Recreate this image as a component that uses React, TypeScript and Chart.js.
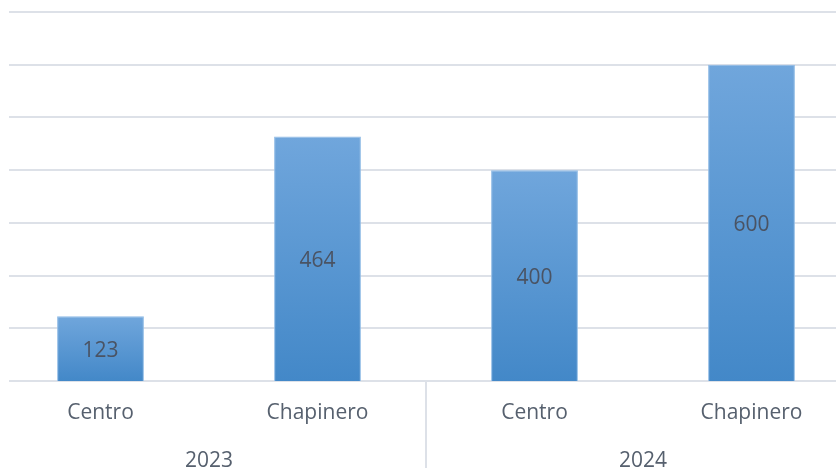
import React, { useEffect, useRef } from "react";
import { Chart, registerables } from "chart.js";

Chart.register(...registerables);

const categories = ["Centro", "Chapinero", "Centro", "Chapinero"];
const years = ["2023", "2024"];
const values = [123, 464, 400, 600];
const yMax = 700;
const yStep = 100;

const GRID = "#dde1e8";
const LABEL = "#56606e";
const DATA_LABEL = "#4a5363";
const FONT = "'Open Sans', sans-serif";

const customPlugin = {
  id: "excelLook",
  beforeDatasetsDraw(chart: any) {
    const { ctx, chartArea, scales } = chart;
    const y = scales.y;
    const x = scales.x;
    ctx.save();
    ctx.strokeStyle = GRID;
    ctx.lineWidth = 2;
    for (let v = 0; v <= yMax; v += yStep) {
      const py = Math.round(y.getPixelForValue(v));
      ctx.beginPath();
      ctx.moveTo(17, py);
      ctx.lineTo(chartArea.right, py);
      ctx.stroke();
    }
    // group separator
    const sx = (x.getPixelForValue(1) + x.getPixelForValue(2)) / 2;
    const by = y.getPixelForValue(0);
    ctx.beginPath();
    ctx.moveTo(sx, by);
    ctx.lineTo(sx, chart.height);
    ctx.stroke();
    ctx.restore();
  },
  afterDraw(chart: any) {
    const { ctx, scales } = chart;
    const x = scales.x;
    const y = scales.y;
    ctx.save();
    // data labels
    const meta = chart.getDatasetMeta(0);
    ctx.font = `21px ${FONT}`;
    ctx.fillStyle = DATA_LABEL;
    ctx.textAlign = "center";
    ctx.textBaseline = "middle";
    meta.data.forEach((el: any, i: number) => {
      const cy = (el.y + el.base) / 2 + 2;
      ctx.fillText(String(values[i]), el.x, cy);
    });
    // year labels
    ctx.fillStyle = LABEL;
    years.forEach((yr, gi) => {
      const cx = (x.getPixelForValue(gi * 2) + x.getPixelForValue(gi * 2 + 1)) / 2;
      ctx.fillText(yr, cx, y.getPixelForValue(0) + 80);
    });
    ctx.restore();
  },
};

export default function App() {
  const ref = useRef<HTMLCanvasElement>(null);
  useEffect(() => {
    if (!ref.current) return;
    const chart = new Chart(ref.current, {
      type: "bar",
      data: {
        labels: categories,
        datasets: [
          {
            data: values,
            backgroundColor: (c: any) => {
              const ch = c.chart;
              const ys = ch.scales && ch.scales.y;
              if (!ch.chartArea || !ys || c.raw == null) return "#5b9bd5";
              const top = ys.getPixelForValue(c.raw);
              const base = ys.getPixelForValue(0);
              const g = ch.ctx.createLinearGradient(0, top, 0, base);
              g.addColorStop(0, "#70a6dc");
              g.addColorStop(1, "#4388c8");
              return g;
            },
            borderColor: "#8fbbe6",
            borderWidth: 1,
            barPercentage: 0.4,
            categoryPercentage: 1,
          },
        ],
      },
      options: {
        responsive: false,
        animation: false,
        layout: { padding: { top: 12, left: 0, right: 0, bottom: 0 } },
        plugins: { legend: { display: false }, tooltip: { enabled: false } },
        scales: {
          y: { display: false, min: 0, max: yMax, ticks: { stepSize: yStep } },
          x: {
            offset: true,
            grid: { display: false, drawTicks: false },
            border: { display: false },
            ticks: { color: LABEL, font: { family: FONT, size: 21 }, padding: 19, maxRotation: 0 },
            afterFit: (s: any) => {
              s.height = 109;
            },
          },
        },
      },
      plugins: [customPlugin],
    });
    return () => chart.destroy();
  }, []);
  return (
    <div style={{ position: "fixed", left: 0, top: 0, width: 836, height: 468, overflow: "hidden", background: "#fff" }}>
      <canvas ref={ref} width={868} height={490} style={{ position: "absolute", left: -8, top: 0, width: 868, height: 490 }} />
    </div>
  );
}
